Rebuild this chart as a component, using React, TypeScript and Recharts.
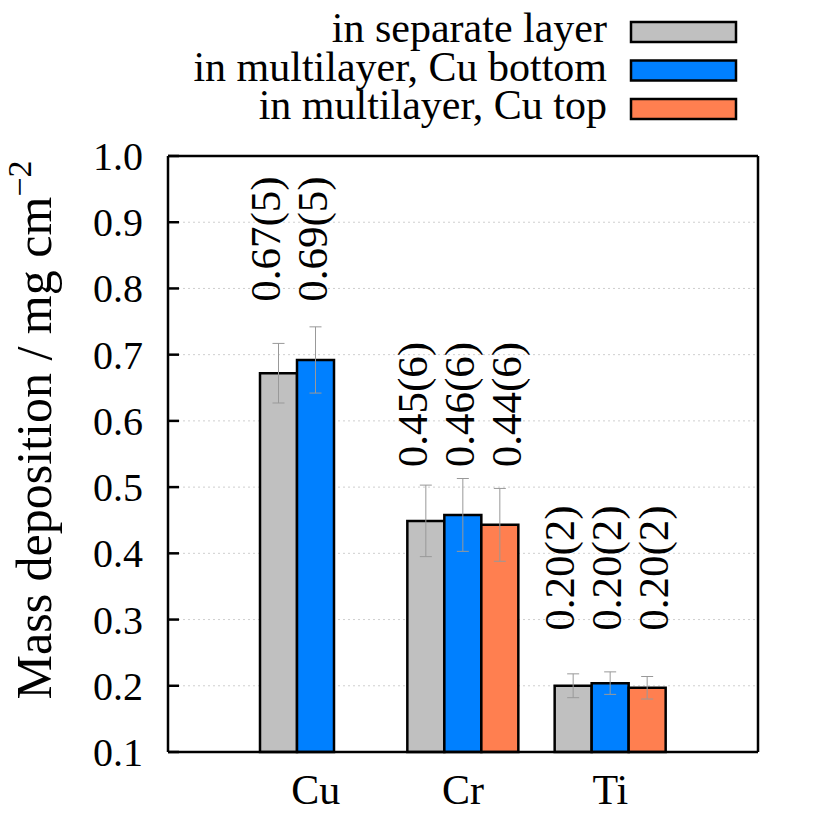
import React from 'react';
import {
  ComposedChart, Bar, ErrorBar, XAxis, YAxis, CartesianGrid, ReferenceDot,
} from 'recharts';

// values (mg cm^-2)
const elements = ['Cu', 'Cr', 'Ti'];
const separate = [0.672, 0.449, 0.2];
const separateErr = [0.045, 0.054, 0.018];
const cuBottom = [0.692, 0.458, 0.204];
const cuBottomErr = [0.05, 0.055, 0.017];
const cuTop = [null, 0.443, 0.197];
const cuTopErr = [null, 0.055, 0.017];

// printed values above each group
const separateText = ['0.67(5)', '0.45(6)', '0.20(2)'];
const cuBottomText = ['0.69(5)', '0.46(6)', '0.20(2)'];
const cuTopText = [null, '0.44(6)', '0.20(2)'];
const labelBase = [0.78, 0.53, 0.283];

const yTicks = [0.1, 0.2, 0.3, 0.4, 0.5, 0.6, 0.7, 0.8, 0.9, 1.0];

const series = [
  { key: 'separate', err: 'separateErr', name: 'in separate layer', color: '#c0c0c0' },
  { key: 'cuBottom', err: 'cuBottomErr', name: 'in multilayer, Cu bottom', color: '#0080ff' },
  { key: 'cuTop', err: 'cuTopErr', name: 'in multilayer, Cu top', color: '#ff7f50' },
];

const data = elements.map((el, i) => ({
  element: el,
  separate: separate[i],
  separateErr: separateErr[i],
  cuBottom: cuBottom[i],
  cuBottomErr: cuBottomErr[i],
  cuTop: cuTop[i],
  cuTopErr: cuTopErr[i],
}));

const FONT = "'Liberation Serif', 'DejaVu Serif', 'Times New Roman', serif";
const txt = (size: number) => ({ fontFamily: FONT, fontSize: size });

const LeftTick = (props: any) => {
  const { x, y, payload } = props;
  return (
    <g>
      <line x1={x} x2={x + 11} y1={y} y2={y} stroke="#000" strokeWidth={2.5} />
      <text x={x - 25} y={y} dy={14} textAnchor="end" style={txt(40)} fill="#000">
        {Number(payload.value).toFixed(1)}
      </text>
    </g>
  );
};

const RightTick = (props: any) => {
  const { x, y } = props;
  return <line x1={x - 11} x2={x} y1={y} y2={y} stroke="#000" strokeWidth={2.5} />;
};

const BottomTick = (props: any) => {
  const { x, y, payload } = props;
  return (
    <text x={x} y={y + 52} textAnchor="middle" style={txt(42)} fill="#000">
      {payload.value}
    </text>
  );
};

const groupLabels = (i: number) => (p: any) => {
  const { cx, cy } = p;
  const texts = [separateText[i], cuBottomText[i], cuTopText[i]];
  const offsets = [-36, 11, 58];
  return (
    <g>
      {texts.map((t, j) =>
        t ? (
          <text
            key={j}
            x={cx + offsets[j]}
            y={cy}
            transform={`rotate(-90, ${cx + offsets[j]}, ${cy})`}
            textAnchor="start"
            style={txt(43)}
            fill="#000"
          >
            {t}
          </text>
        ) : null
      )}
    </g>
  );
};

export default function App() {
  return (
    <div style={{ position: 'relative', width: 830, height: 830, margin: -8, background: '#fff', fontFamily: FONT }}>
      <ComposedChart
        width={830}
        height={830}
        data={data}
        margin={{ top: 155, right: 71, bottom: 18, left: 0 }}
        barSize={37}
        barGap={0}
      >
        <CartesianGrid vertical={false} stroke="#cfcfcf" strokeDasharray="2 3" yAxisId="left" />
        <XAxis
          dataKey="element"
          type="category"
          padding={{ left: 74, right: 74 }}
          height={60}
          tickLine={false}
          tickSize={0}
          tickMargin={0}
          tick={<BottomTick />}
          axisLine={{ stroke: '#000', strokeWidth: 2.5 }}
        />
        <XAxis
          xAxisId="top"
          orientation="top"
          dataKey="element"
          type="category"
          padding={{ left: 74, right: 74 }}
          height={1}
          tick={false}
          tickLine={false}
          axisLine={{ stroke: '#000', strokeWidth: 2.5 }}
        />
        <YAxis
          yAxisId="left"
          width={168}
          domain={[0.1, 1.0]}
          ticks={yTicks}
          interval={0}
          tickLine={false}
          tickSize={0}
          tickMargin={0}
          tick={<LeftTick />}
          axisLine={{ stroke: '#000', strokeWidth: 2.5 }}
        />
        <YAxis
          yAxisId="right"
          orientation="right"
          width={1}
          domain={[0.1, 1.0]}
          ticks={yTicks}
          interval={0}
          tickLine={false}
          tickSize={0}
          tickMargin={0}
          tick={<RightTick />}
          axisLine={{ stroke: '#000', strokeWidth: 2.5 }}
        />
        {series.map((s) => (
          <Bar
            key={s.key}
            yAxisId="left"
            dataKey={s.key}
            fill={s.color}
            stroke="#000"
            strokeWidth={2.5}
            isAnimationActive={false}
          >
            <ErrorBar dataKey={s.err} width={6} stroke="#999" strokeWidth={1} direction="y" />
          </Bar>
        ))}
        {elements.map((el, i) => (
          <ReferenceDot
            key={el}
            yAxisId="left"
            x={el}
            y={labelBase[i]}
            r={0}
            shape={groupLabels(i)}
          />
        ))}
      </ComposedChart>
      <svg
        width={830}
        height={830}
        style={{ position: 'absolute', left: 0, top: 0, pointerEvents: 'none' }}
      >
        {series.map((s, i) => (
          <g key={s.key}>
            <text x={607} y={42 + i * 38.5} textAnchor="end" style={txt(42)} fill="#000">
              {s.name}
            </text>
            <rect x={631} y={22 + i * 38.5} width={105} height={20} fill={s.color} stroke="#000" strokeWidth={2.5} />
          </g>
        ))}
        <text
          x={51}
          y={430}
          transform="rotate(-90, 51, 430)"
          textAnchor="middle"
          style={txt(50)}
          fill="#000"
        >
          Mass deposition / mg cm
          <tspan style={{ fontSize: 34 }} dy={-20}>−2</tspan>
        </text>
      </svg>
    </div>
  );
}
